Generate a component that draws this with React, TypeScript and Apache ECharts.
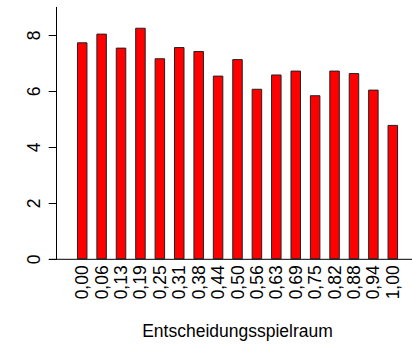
import React, { useEffect, useRef } from "react";
import * as echarts from "echarts";

// Category labels along the x axis (decision latitude score)
const categories: string[] = [
  "0,00", "0,06", "0,13", "0,19", "0,25", "0,31", "0,38", "0,44", "0,50",
  "0,56", "0,63", "0,69", "0,75", "0,82", "0,88", "0,94", "1,00",
];

// Bar heights
const values: number[] = [
  7.75, 8.06, 7.56, 8.27, 7.18, 7.58, 7.44, 6.56, 7.15,
  6.09, 6.6, 6.74, 5.86, 6.74, 6.65, 6.06, 4.8,
];

const xTitle = "Entscheidungsspielraum";
const yMin = 0;
const yMax = 9;
const yStep = 2;

const W = 412;
const H = 347;
const GRID_LEFT = 72.5;
const GRID_RIGHT = 9.5;
const GRID_TOP = 7.3;
const GRID_BOTTOM = 87.7;
const FONT = "'Liberation Sans', Arial, Helvetica, sans-serif";
const FONT_SIZE = 17.5;

export default function App() {
  const ref = useRef<HTMLDivElement>(null);

  useEffect(() => {
    if (!ref.current) return;
    const chart = echarts.init(ref.current, undefined, { renderer: "svg" });
    const baseY = H - GRID_BOTTOM;
    chart.setOption({
      animation: false,
      backgroundColor: "#ffffff",
      textStyle: { fontFamily: FONT },
      grid: { left: GRID_LEFT, right: GRID_RIGHT, top: GRID_TOP, bottom: GRID_BOTTOM },
      xAxis: {
        type: "category",
        data: categories,
        axisLine: { show: false },
        axisTick: { show: false },
        axisLabel: {
          interval: 0,
          rotate: 90,
          margin: 6,
          color: "#000",
          fontFamily: FONT,
          fontSize: FONT_SIZE,
        },
        name: xTitle,
        nameLocation: "middle",
        nameGap: 63,
        nameTextStyle: { color: "#000", fontFamily: FONT, fontSize: FONT_SIZE },
      },
      yAxis: {
        type: "value",
        min: yMin,
        max: yMax,
        interval: yStep,
        offset: GRID_LEFT - 56.7,
        splitLine: { show: false },
        axisLine: { show: true, lineStyle: { color: "#000", width: 1 } },
        axisTick: { show: true, length: 8, lineStyle: { color: "#000", width: 1 } },
        axisLabel: {
          rotate: 90,
          margin: 14,
          color: "#000",
          fontFamily: FONT,
          fontSize: FONT_SIZE,
          showMaxLabel: false,
        },
      },
      graphic: [
        {
          type: "line",
          shape: { x1: 49, y1: baseY, x2: W, y2: baseY },
          style: { stroke: "#000", lineWidth: 1 },
          z: 10,
        },
      ],
      series: [
        {
          type: "bar",
          data: values,
          barWidth: 10.5,
          itemStyle: { color: "#ff0000", borderColor: "#222", borderWidth: 1 },
        },
      ],
    });
    return () => chart.dispose();
  }, []);

  return (
    <div
      ref={ref}
      style={{ position: "absolute", left: 0, top: 0, width: W, height: H }}
    />
  );
}
